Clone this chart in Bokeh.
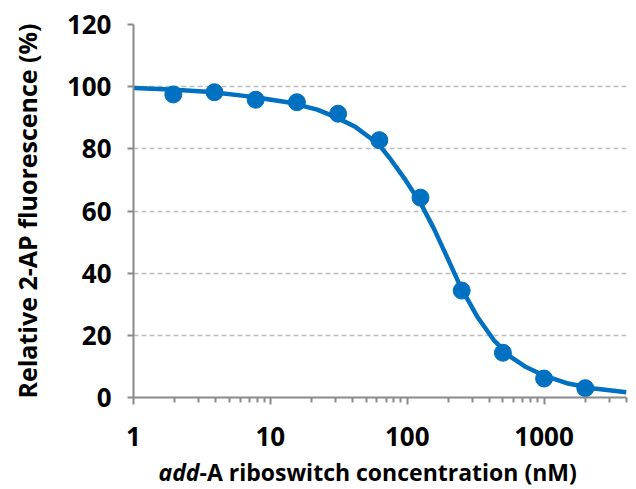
from bokeh.plotting import figure
from bokeh.layouts import column
from bokeh.models import Range1d, FixedTicker, NumeralTickFormatter
from bokeh.core.properties import value
from bokeh.embed import file_html
from bokeh.resources import INLINE

# measured points (serial 2-fold dilution, nM) and relative fluorescence (%)
conc = [1.953125, 3.90625, 7.8125, 15.625, 31.25, 62.5, 125, 250, 500, 1000, 2000]
fluor = [97.5, 98.2, 95.8, 95.0, 91.3, 82.8, 64.3, 34.4, 14.4, 6.1, 3.0]

# fitted curve
fit_x = [1.0, 1.87, 3.66, 7.18, 14.1, 22.0, 30.0, 42.0, 54.0, 62.5, 76.0, 97.0, 126.0,
         156.0, 194.0, 246.0, 327.0, 430.0, 574.0, 738.0, 995.0, 1496.0, 2324.0, 4000.0]
fit_y = [99.6, 99.1, 98.3, 96.8, 94.8, 92.6, 90.2, 87.0, 83.4, 81.2, 76.5, 70.0, 62.3,
         54.5, 45.5, 35.5, 25.8, 18.4, 13.0, 9.8, 7.1, 4.5, 2.9, 1.7]

y_ticks = [0, 20, 40, 60, 80, 100, 120]
x_major = [1, 10, 100, 1000]
x_minor = [m * d for d in (1, 10, 100) for m in range(2, 10)] + [2000, 3000, 4000]

x_title_italic = "add"
x_title_rest = "-A riboswitch concentration (nM)"
y_title = "Relative 2-AP fluorescence (%)"

BLUE = "#0070C0"
FONT = "Open Sans"
AX = "#8a8a8a"

p = figure(width=636, height=454, x_axis_type="log",
           x_range=Range1d(1, 4000), y_range=Range1d(0, 120),
           output_backend="svg", toolbar_location=None,
           min_border_left=133, min_border_right=10,
           min_border_top=24, min_border_bottom=57)
p.outline_line_color = None

p.line(fit_x, fit_y, line_color=BLUE, line_width=4.5)
p.scatter(conc, fluor, size=17, fill_color=BLUE, line_color=BLUE)

p.xgrid.visible = False
p.ygrid.ticker = FixedTicker(ticks=y_ticks)
p.ygrid.grid_line_color = "#bdbdbd"
p.ygrid.grid_line_dash = "5 3"
p.ygrid.grid_line_width = 1.3

ya = p.yaxis[0]
ya.ticker = FixedTicker(ticks=y_ticks)
ya.axis_line_color = AX
ya.axis_line_width = 2
ya.major_tick_line_color = AX
ya.major_tick_line_width = 2
ya.major_tick_out = 6
ya.major_tick_in = 0
ya.minor_tick_line_color = None
ya.major_label_text_font = FONT
ya.major_label_text_font_style = "bold"
ya.major_label_text_font_size = "26px"
ya.major_label_text_color = "black"
ya.major_label_standoff = 16
ya.axis_label = y_title
ya.axis_label_text_font = FONT
ya.axis_label_text_font_style = "bold"
ya.axis_label_text_font_size = "25px"
ya.axis_label_text_color = "black"
ya.axis_label_standoff = 20

xa = p.xaxis[0]
xa.ticker = FixedTicker(ticks=x_major, minor_ticks=x_minor)
xa.formatter = NumeralTickFormatter(format="0")
xa.axis_line_color = AX
xa.axis_line_width = 2
xa.major_tick_line_color = AX
xa.major_tick_line_width = 2
xa.major_tick_out = 7
xa.major_tick_in = 0
xa.minor_tick_line_color = AX
xa.minor_tick_line_width = 2
xa.minor_tick_out = 5
xa.minor_tick_in = 0
xa.major_label_text_font = FONT
xa.major_label_text_font_style = "bold"
xa.major_label_text_font_size = "26px"
xa.major_label_text_color = "black"
xa.major_label_standoff = 22

# strip below holding the x-axis title (mixed italic / upright);
# its frame is aligned with the main frame (x 133..626 on the page)
t = figure(width=636, height=35, x_range=Range1d(133, 626), y_range=Range1d(0, 35),
           output_backend="svg", toolbar_location=None,
           min_border_left=133, min_border_right=10,
           min_border_top=0, min_border_bottom=0)
t.axis.visible = False
t.grid.visible = False
t.outline_line_color = None
join_x = 199
t.text(x=[join_x], y=[18], text=[x_title_italic], text_font=value(FONT),
       text_font_style="bold italic", text_font_size="23px",
       text_align="right", text_baseline="middle", text_color="black")
t.text(x=[join_x], y=[18], text=[x_title_rest], text_font=value(FONT),
       text_font_style="bold", text_font_size="23px",
       text_align="left", text_baseline="middle", text_color="black")

layout = column(p, t, spacing=0)
open("out.html", "w").write(file_html(layout, INLINE))
